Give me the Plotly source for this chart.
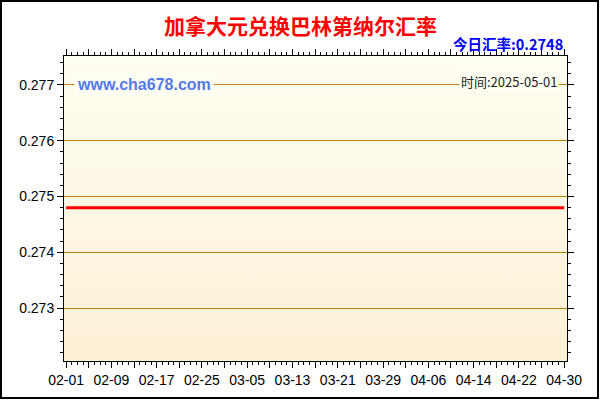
import base64
import pandas as pd
import plotly.graph_objects as go

TITLE = "加拿大元兑换巴林第纳尔汇率"
SUBTITLE = "今日汇率:0.2748"
WATERMARK = "www.cha678.com"
DATE_NOTE = "时间:2025-05-01"

dates = pd.date_range("2025-02-01", "2025-04-30", freq="D")
rates = [
    0.2748, 0.2748, 0.2748, 0.2748, 0.2748, 0.2748, 0.2748, 0.2748, 0.2748, 0.2748,
    0.2748, 0.2748, 0.2748, 0.2748, 0.2748, 0.2748, 0.2748, 0.2748, 0.2748, 0.2748,
    0.2748, 0.2748, 0.2748, 0.2748, 0.2748, 0.2748, 0.2748, 0.2748, 0.2748, 0.2748,
    0.2748, 0.2748, 0.2748, 0.2748, 0.2748, 0.2748, 0.2748, 0.2748, 0.2748, 0.2748,
    0.2748, 0.2748, 0.2748, 0.2748, 0.2748, 0.2748, 0.2748, 0.2748, 0.2748, 0.2748,
    0.2748, 0.2748, 0.2748, 0.2748, 0.2748, 0.2748, 0.2748, 0.2748, 0.2748, 0.2748,
    0.2748, 0.2748, 0.2748, 0.2748, 0.2748, 0.2748, 0.2748, 0.2748, 0.2748, 0.2748,
    0.2748, 0.2748, 0.2748, 0.2748, 0.2748, 0.2748, 0.2748, 0.2748, 0.2748, 0.2748,
    0.2748, 0.2748, 0.2748, 0.2748, 0.2748, 0.2748, 0.2748, 0.2748, 0.2748,
]
y_ticks = [0.273, 0.274, 0.275, 0.276, 0.277]

# major ticks every 4 days, labels every 8 days
x_tickvals = dates[::4]
x_ticktext = [d.strftime("%m-%d") if i % 2 == 0 else "" for i, d in enumerate(x_tickvals)]

# vertical gradient for the plot background
svg = ('<svg xmlns="http://www.w3.org/2000/svg" width="10" height="100" preserveAspectRatio="none">'
       '<defs><linearGradient id="g" x1="0" y1="0" x2="0" y2="1">'
       '<stop offset="0" stop-color="#FFFEF2"/><stop offset="1" stop-color="#FCF0D6"/>'
       '</linearGradient></defs><rect width="10" height="100" fill="url(#g)"/></svg>')
bg_src = "data:image/svg+xml;base64," + base64.b64encode(svg.encode()).decode()

fig = go.Figure()
fig.add_trace(go.Scatter(x=dates, y=rates, mode="lines",
                         line=dict(color="#FF0000", width=3), hoverinfo="x+y"))

L, R, T, B = 64, 33, 56, 39
pw, ph = 600 - L - R, 400 - T - B

fig.update_layout(
    width=600, height=400,
    margin=dict(l=L, r=R, t=T, b=B),
    paper_bgcolor="white",
    plot_bgcolor="rgba(0,0,0,0)",
    showlegend=False,
    font=dict(family="Liberation Sans, Arial", size=14, color="#000"),
    images=[dict(source=bg_src, xref="paper", yref="paper", x=0, y=1,
                 sizex=1, sizey=1, sizing="stretch", layer="below")],
    shapes=[dict(type="rect", xref="paper", yref="paper",
                 x0=-(L - 1) / pw, x1=1 + (R - 2) / pw,
                 y0=-(B - 2) / ph, y1=1 + (T - 1) / ph,
                 line=dict(color="black", width=2))],
    annotations=[
        dict(text=f"<b>{TITLE}</b>", xref="paper", yref="paper",
             x=(300 - L) / pw, y=1 + 31 / ph, xanchor="center", yanchor="middle",
             showarrow=False, font=dict(family="Noto Sans CJK SC", size=21, color="#FF0000")),
        dict(text=f"<b>{SUBTITLE}</b>", xref="paper", yref="paper",
             x=1 - 2 / pw, y=1 + 13 / ph, xanchor="right", yanchor="middle",
             showarrow=False, font=dict(family="Noto Sans CJK SC, Liberation Sans", size=14.5, color="#0000FF")),
        dict(text=f"<b>{WATERMARK}</b>", xref="paper", yref="y",
             x=10 / pw, y=0.277, xanchor="left", yanchor="middle",
             showarrow=False, bgcolor="#FFFEF2", borderpad=2,
             font=dict(family="Liberation Sans, Arial", size=16, color="#5578EE")),
        dict(text=DATE_NOTE, xref="paper", yref="y",
             x=(559 - L) / pw, y=0.27707, xanchor="right", yanchor="middle",
             showarrow=False, bgcolor="#FFFEF2", borderpad=1,
             font=dict(family="Noto Sans CJK SC, DejaVu Sans", size=13, color="#222")),
    ],
)

fig.update_xaxes(
    type="date",
    range=["2025-01-31 15:00", "2025-04-30 12:00"],
    tickvals=x_tickvals, ticktext=x_ticktext,
    ticks="outside", ticklen=6, tickcolor="black", tickwidth=1,
    minor=dict(dtick=86400000, ticks="outside", ticklen=3, tickcolor="black", showgrid=False),
    showline=True, linecolor="black", linewidth=1, mirror="ticks",
    showgrid=False, zeroline=False, tickfont=dict(size=14),
)
fig.update_yaxes(
    range=[0.27205, 0.27752],
    tickvals=y_ticks, ticktext=[f"{v:.3f}" for v in y_ticks],
    ticks="outside", ticklen=6, tickcolor="black", tickwidth=1,
    minor=dict(dtick=0.0002, ticks="outside", ticklen=3, tickcolor="black", showgrid=False),
    showline=True, linecolor="black", linewidth=1, mirror="ticks",
    showgrid=True, gridcolor="#B8860B", gridwidth=1, zeroline=False, tickfont=dict(size=14),
)

fig.write_html("out.html", config={"displayModeBar": False},
               post_script="document.body.style.margin='0';")
